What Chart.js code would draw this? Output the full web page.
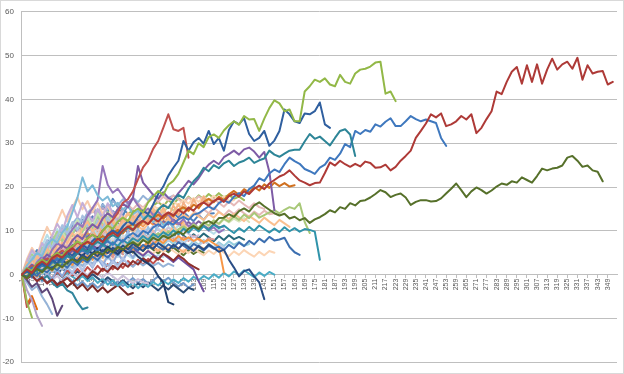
<!DOCTYPE html>
<html>
<head>
<meta charset="utf-8">
<script src="https://cdn.jsdelivr.net/npm/chart.js@4/dist/chart.umd.min.js"></script>
<style>
  body { margin: 0; background: #fff; }
</style>
</head>
<body>
<canvas id="walks" width="624" height="374"></canvas>
<script>
var STEP = 3;

var xTickLabels = [1, 7, 13, 19, 25, 31, 37, 43, 49, 55, 61, 67, 73, 79, 85, 91, 97, 103, 109, 115,
  121, 127, 133, 139, 145, 151, 157, 163, 169, 175, 181, 187, 193, 199, 205, 211, 217, 223, 229, 235,
  241, 247, 253, 259, 265, 271, 277, 283, 289, 295, 301, 307, 313, 319, 325, 331, 337, 343, 349];
var yTickLabels = [-20, -10, 0, 10, 20, 30, 40, 50, 60];

// long runs
var redLong = [0, 1.2, 0.4, 2.1, 3.0, 2.2, 3.8, 4.5, 3.9, 5.2,
  6.0, 5.1, 6.8, 7.5, 6.9, 8.2, 7.4, 8.9, 9.6, 8.8,
  10.1, 11.0, 10.2, 11.6, 12.3, 11.5, 12.9, 12.1, 13.4, 14.2,
  13.5, 14.8, 14.0, 15.3, 14.6, 15.9, 16.5, 15.7, 16.8, 17.4,
  16.6, 17.9, 18.5, 17.8, 19.0, 18.4, 19.6, 20.3, 19.5, 20.8,
  21.6, 22.4, 22.9, 23.8, 22.6, 21.5, 21.0, 20.4, 20.9, 21.0,
  23.2, 25.6, 24.9, 26.0, 25.2, 24.6, 25.3, 24.7, 25.8, 25.5,
  24.4, 24.5, 25.1, 23.8, 24.6, 26.0, 27.1, 28.3, 31.2, 32.8,
  34.5, 36.6, 35.9, 36.8, 33.9, 34.3, 35.0, 36.2, 35.4, 36.6,
  32.3, 33.5, 35.5, 37.3, 41.8, 41.2, 44.0, 46.3, 47.4, 43.6,
  47.8, 44.0, 48.0, 43.6, 46.8, 49.3, 46.8, 48.0, 48.6, 47.0,
  49.5, 44.5, 47.8, 45.9, 46.3, 46.5, 43.4, 44.0];
var oliveLong = [0, -0.8, 0.5, 1.3, 0.6, 1.8, 1.1, 2.4, 1.7, 2.9,
  3.5, 2.8, 4.0, 3.3, 4.6, 5.2, 4.5, 5.8, 5.1, 6.3,
  5.7, 6.8, 7.4, 6.6, 7.9, 7.2, 8.4, 7.8, 8.9, 8.3,
  9.0, 9.8, 9.2, 10.5, 11.1, 10.4, 11.7, 12.2, 11.6, 12.9,
  13.0, 13.8, 13.2, 14.5, 15.1, 14.4, 15.8, 16.5, 15.6, 14.8,
  14.0, 13.5, 13.9, 12.8, 13.2, 12.4, 12.9, 11.8, 12.6, 13.1,
  13.8, 14.7, 14.2, 15.4, 15.0, 16.3, 15.8, 16.8, 17.0, 17.6,
  18.4, 19.3, 18.8, 17.7, 18.2, 18.5, 17.6, 15.9, 16.6, 17.0,
  17.0, 16.7, 16.8, 17.4, 18.5, 19.6, 20.8, 19.3, 17.7, 19.0,
  19.9, 19.3, 18.5, 19.2, 20.1, 20.8, 20.5, 21.3, 21.0, 22.2,
  21.6, 21.0, 22.5, 24.2, 23.8, 24.2, 24.4, 24.9, 26.7, 27.1,
  26.0, 24.6, 24.9, 23.8, 23.5, 21.3];
var greenLong = [0, 1.5, 0.8, 2.6, 3.4, 2.7, 4.1, 5.0, 4.2, 5.8,
  6.5, 7.6, 6.9, 8.3, 9.1, 8.2, 10.0, 11.2, 10.4, 12.1,
  13.0, 12.2, 14.3, 15.1, 14.2, 16.5, 17.8, 19.1, 18.2, 20.5,
  21.4, 23.0, 25.6, 28.3, 27.5, 30.0, 29.1, 31.4, 32.0, 31.2,
  32.9, 34.1, 35.0, 34.2, 36.2, 35.4, 35.5, 32.8, 35.6, 38.0,
  39.8, 39.1, 37.3, 37.7, 35.0, 35.0, 41.8, 43.0, 44.5, 44.0,
  44.8, 43.4, 43.0, 45.6, 44.0, 43.6, 45.9, 46.8, 47.0, 47.5,
  48.4, 48.6, 41.3, 41.8, 39.6];
var blueLong = [0, 0.9, -0.4, 1.6, 2.5, 1.7, 3.3, 2.6, 4.2, 5.1,
  4.3, 5.9, 6.8, 6.0, 7.7, 8.5, 7.6, 9.2, 10.1, 9.3,
  11.0, 12.2, 11.4, 13.1, 14.6, 13.8, 16.0, 18.4, 20.1, 22.6,
  24.4, 26.0, 30.5, 28.3, 30.2, 31.2, 29.9, 32.8, 29.8, 31.2,
  28.3, 33.0, 35.0, 34.3, 35.7, 32.1, 30.5, 31.2, 32.8, 29.4,
  30.6, 32.8, 37.7, 36.6, 35.0, 34.6, 36.8, 36.6, 37.3, 39.3,
  34.3, 33.5];
var tealLong = [0, -0.6, 0.7, 1.5, 0.8, 2.2, 3.0, 2.3, 3.6, 4.4,
  3.7, 5.0, 5.9, 5.2, 6.6, 7.5, 6.8, 8.3, 9.0, 8.4,
  9.9, 10.7, 10.1, 11.5, 12.4, 13.6, 12.9, 14.8, 15.9, 15.2,
  17.0, 18.2, 17.5, 19.6, 21.3, 22.5, 24.4, 23.6, 25.0, 24.3,
  25.4, 26.0, 24.8, 25.6, 26.0, 26.7, 25.5, 26.1, 26.5, 28.3,
  27.4, 26.9, 27.6, 28.3, 28.5, 28.5, 30.4, 32.1, 31.0, 31.5,
  30.5, 29.5, 31.2, 32.8, 33.2, 32.0, 27.1];
var blueMid = [0, 0.7, 1.6, 0.9, 2.3, 1.5, 2.8, 3.6, 2.9, 4.3,
  3.6, 4.9, 5.5, 4.8, 6.2, 5.4, 6.9, 7.6, 6.8, 8.1,
  7.5, 8.8, 9.5, 8.7, 10.0, 9.4, 10.8, 11.5, 10.7, 12.0,
  11.4, 12.6, 13.2, 12.5, 13.7, 14.0, 14.8, 15.6, 14.9, 16.3,
  17.0, 16.4, 17.8, 18.6, 17.9, 19.5, 20.3, 22.0, 21.4, 23.1,
  24.0, 23.4, 25.2, 26.7, 25.9, 25.3, 24.1, 23.6, 23.0, 24.4,
  25.1, 26.7, 26.2, 27.6, 29.8, 29.1, 32.8, 32.1, 33.0, 32.6,
  34.3, 33.8, 34.9, 35.7, 33.9, 33.9, 35.0, 36.2, 35.5, 35.0,
  35.4, 35.0, 34.6, 31.2, 29.4];

// middle runs
var purpleA = [0, 1.1, 2.3, 1.5, 3.2, 4.6, 3.8, 5.5, 6.7, 5.9,
  7.8, 9.0, 8.1, 10.2, 11.5, 10.6, 12.8, 14.0, 13.1, 14.9,
  16.2, 15.3, 17.5, 24.8, 21.0, 19.6, 18.2, 17.4, 18.8, 17.5,
  17.0, 18.6, 19.9, 21.4, 20.6, 22.0, 23.8, 25.1, 26.0, 25.2,
  26.8, 27.5, 28.3, 27.4, 28.6, 29.0, 28.1, 26.7, 28.0, 23.5, 14.7];
var purpleB = [0, 1.4, 0.6, 2.8, 4.1, 3.3, 5.7, 7.2, 6.4, 8.6,
  10.3, 11.8, 10.9, 13.4, 15.2, 17.0, 24.8, 20.5, 18.7, 19.6,
  17.9, 16.3, 17.5, 15.8, 14.2, 15.1, 13.6, 14.4, 12.9, 13.8,
  12.2, 11.5, 12.7, 11.0, 11.9, 10.4, 11.2, 10.0, 10.8, 9.6, 10.3];
var skyBlue = [0, 2.1, 3.4, 5.0, 4.2, 6.8, 8.1, 7.3, 9.6, 11.0,
  14.2, 17.5, 22.2, 19.0, 20.4, 18.1, 16.9, 17.8, 15.6, 16.4,
  14.9, 15.7, 13.8, 14.6, 12.9, 13.5, 12.0, 12.8, 11.3, 12.1, 10.7];
var redPeak = [0, 0.8, 2.0, 1.2, 2.9, 3.7, 3.0, 4.6, 5.5, 4.7,
  6.2, 7.4, 6.6, 8.3, 9.1, 8.4, 10.0, 11.3, 12.5, 14.1,
  16.4, 17.2, 19.0, 21.8, 24.5, 26.0, 28.7, 30.5, 33.5, 36.6,
  33.2, 32.8, 33.5, 26.7];
var navyA = [0, -0.5, 0.6, 1.4, 0.7, 2.0, 1.3, 2.6, 3.2, 2.5,
  3.8, 3.1, 4.5, 3.7, 5.0, 4.2, 5.6, 4.9, 6.1, 5.3,
  6.6, 5.8, 7.0, 6.2, 5.4, 6.7, 5.9, 7.2, 6.4, 5.5,
  6.8, 5.9, 7.1, 6.3, 5.4, 6.6, 5.7, 6.9, 6.1, 5.2,
  5.7, 3.4, 1.6, -0.4, 0.8, 1.2, -0.4, -1.8, -5.6];
var navyB = [0, 0.9, 0.2, 1.7, 2.6, 1.8, 3.1, 2.4, 3.8, 4.5,
  3.7, 5.0, 4.2, 5.6, 4.8, 6.1, 5.2, 6.4, 5.5, 4.7,
  5.8, 4.9, 5.3, 4.1, 3.2, 2.5, 1.6, -0.4, -1.8, -6.3, -6.8];
var blueLow = [0, -0.7, 0.4, -0.3, 1.1, 0.5, 1.8, 1.0, 2.4, 1.6,
  3.0, 2.2, 3.5, 2.8, 4.1, 3.3, 4.7, 3.9, 5.2, 4.5,
  5.8, 5.0, 6.3, 5.5, 6.8, 6.0, 7.2, 6.4, 5.7, 6.9,
  6.2, 7.4, 6.6, 5.8, 7.0, 6.3, 5.5, 6.6, 5.9, 6.4,
  5.6, 6.8, 6.0, 7.3, 6.5, 7.7, 6.9, 8.2, 7.4, 8.6,
  7.8, 8.0, 8.4, 6.3, 5.1, 4.5];
var tealLow = [0, 0.6, 1.5, 0.8, 2.2, 1.4, 2.9, 3.7, 2.8, 4.2,
  3.5, 4.9, 5.6, 4.7, 6.1, 5.3, 6.8, 6.0, 7.4, 6.5,
  7.9, 7.1, 8.3, 7.6, 8.8, 7.9, 9.3, 8.5, 9.7, 8.9,
  10.1, 9.2, 10.5, 9.6, 10.8, 9.9, 11.1, 10.2, 11.4, 10.6,
  11.2, 10.3, 9.5, 10.6, 9.8, 10.9, 10.0, 11.2, 10.4, 9.6,
  10.5, 9.7, 10.8, 9.9, 10.6, 9.8, 10.4, 10.2, 9.8, 3.4];
var lightGreen = [0, 0.5, -0.3, 1.0, 0.4, 1.6, 2.3, 1.5, 2.9, 2.2,
  3.4, 2.7, 4.0, 3.2, 4.6, 5.3, 4.5, 5.9, 5.1, 6.4,
  5.6, 6.9, 7.6, 6.8, 8.1, 7.3, 8.7, 9.4, 8.6, 9.9,
  9.1, 10.4, 11.0, 10.2, 11.5, 10.7, 12.0, 11.2, 12.4, 11.6,
  12.8, 12.1, 13.3, 12.5, 13.7, 12.9, 14.1, 13.0, 13.6, 14.2,
  14.7, 14.0, 14.8, 15.4, 15.0, 16.3, 12.0, 9.5];
var orangeA = [0, 1.3, 0.5, 2.0, 2.8, 2.1, 3.5, 4.3, 3.6, 5.0,
  5.9, 5.1, 6.6, 7.4, 6.7, 8.0, 8.8, 8.1, 9.5, 10.2,
  9.4, 10.8, 11.6, 10.9, 12.2, 11.5, 12.9, 13.7, 12.8, 14.1,
  13.3, 14.7, 15.4, 14.6, 16.0, 15.2, 16.6, 17.3, 16.5, 17.8,
  17.0, 18.3, 19.1, 18.2, 19.5, 18.7, 20.0, 19.2, 20.6, 19.8,
  21.0, 20.2, 20.9, 20.1, 20.4];
var orangeB = [0, -0.8, 0.3, -0.5, 0.9, 1.7, 0.9, 2.3, 1.6, 3.0,
  2.2, 3.6, 2.9, 4.3, 3.5, 4.9, 4.1, 5.5, 4.7, 6.0,
  5.2, 6.5, 5.8, 7.1, 6.3, 7.6, 6.8, 8.0, 7.2, 8.4,
  7.6, 8.8, 7.9, 8.5, 7.7, 8.2, 7.4, 7.9, 7.1, 6.4, 0.5];
var darkRedShort = [0, -0.9, -0.2, -1.5, -0.7, -2.0, -1.1, -2.4, -1.6, -0.8,
  -1.9, -0.9, 0.3, -0.6, 0.8, 0.0, 1.4, 0.6, 2.0, 1.2,
  2.6, 1.8, 3.1, 2.3, 3.7, 2.9, 4.2, 3.4, 4.8, 4.1,
  3.2, 4.4, 3.6, 2.5, 1.8, 1.2];
var purpleShort = [0, 0.9, 2.0, 1.2, 2.6, 3.5, 2.7, 4.1, 5.0, 4.2,
  5.6, 4.8, 6.2, 5.4, 6.7, 5.9, 7.1, 6.2, 5.4, 6.6,
  5.8, 4.9, 6.0, 5.1, 4.3, 5.4, 4.5, 3.6, 4.7, 3.8,
  2.9, 3.9, 3.0, 2.1, 1.2, -1.5, -3.8];

// short drops below zero
var negGreen = [0, -6.2, -9.8];
var negLavender = [0, -3.5, -5.8, -9.4, -11.7];
var negRed = [0, -7.4, -5.5];
var negOrange = [0, -6.8, -4.9, -7.9];
var negIndigo = [0, -1.2, -2.8, -1.9, -4.1, -3.2, -5.5, -9.4, -7.1];
var negTeal = [0, 0.8, -0.5, 0.6, -1.2, -0.3, -1.8, -2.9, -2.1, -3.6, -4.2, -6.3, -7.9, -7.5];
var negSky = [0, -1.8, -3.5, -2.6, -5.0, -6.8, -9.0];

// pale bundle near the start
var pale1 = [0, 1.2, 2.5, 1.8, 3.1, 4.0, 3.2, 4.6, 5.4, 4.7, 6.0, 5.3, 6.7, 7.5, 6.6, 8.0, 7.2, 8.5, 9.3, 8.4,
  9.8, 10.5, 9.7, 11.0, 10.2, 11.6, 12.3, 11.4, 12.8, 12.0, 13.2, 12.4, 13.7, 12.9, 14.1, 13.3, 12.5, 13.8, 13.0, 14.3,
  13.5, 12.7, 13.9, 13.1, 12.2, 13.4, 12.6, 11.8, 13.0, 12.1, 11.3, 12.5, 11.7, 10.9];
var pale2 = [0, 0.8, 1.9, 1.1, 2.4, 3.3, 2.5, 3.8, 4.6, 3.9, 5.1, 4.4, 5.7, 6.5, 5.6, 6.9, 6.1, 7.4, 6.6, 7.8,
  7.0, 8.2, 7.3, 8.6, 7.8, 9.0, 8.1, 7.3, 8.5, 7.6, 8.8, 8.0, 7.1, 8.2, 7.4, 6.5, 7.7, 6.9, 6.1, 7.0, 6.2];
var pale3 = [0, 1.5, 0.7, 2.2, 3.5, 2.8, 4.3, 5.6, 4.8, 6.2, 7.4, 6.5, 7.9, 7.0, 8.4, 9.6, 8.7, 10.0, 9.1, 10.5,
  9.6, 11.0, 10.1, 9.2, 10.6, 9.8, 11.1, 10.2, 9.4, 10.7, 9.9, 8.9, 10.2, 9.3, 8.5, 9.0];
var pale4 = [0, 0.4, 1.3, 0.6, 1.9, 1.2, 2.6, 2.0, 3.3, 2.7, 4.0, 3.4, 4.8, 4.1, 5.5, 4.8, 6.2, 5.5, 6.9, 6.1,
  7.4, 6.7, 8.0, 7.3, 8.6, 7.9, 9.1, 8.4, 9.7, 9.0, 10.2, 9.5, 10.8, 10.0, 11.3, 10.5, 11.7, 11.0, 12.2, 11.4,
  12.6, 11.9, 12.8, 12.1, 12.9, 12.0];
var pale5 = [0, 1.0, 2.3, 3.1, 2.4, 3.9, 5.0, 4.2, 5.7, 6.8, 6.0, 7.5, 8.6, 7.8, 9.2, 10.3, 9.4, 10.9, 11.8, 10.9,
  12.3, 11.4, 12.8, 13.9, 12.9, 14.3, 13.4, 12.5, 13.8, 12.9, 14.2, 15.0, 14.1, 15.4, 14.5, 13.6, 14.9, 14.0, 15.3, 14.4,
  13.5, 14.7, 13.8, 14.9, 14.0, 13.2, 14.4, 13.6, 14.6, 13.8, 14.0];
var pale6 = [0, -0.6, 0.5, -0.2, 1.0, 0.3, 1.6, 0.8, 2.1, 1.3, 2.7, 1.9, 3.2, 2.4, 3.8, 3.0, 4.3, 3.5, 4.9, 4.0,
  5.2, 4.4, 3.6, 4.8, 3.9, 4.6, 3.7, 4.5, 4.0];
var pale7 = [0, 1.8, 3.2, 2.4, 4.1, 5.5, 4.6, 6.3, 7.6, 6.8, 8.4, 9.7, 8.8, 10.3, 11.5, 10.6, 12.1, 13.0, 12.1, 13.6,
  12.7, 14.0, 13.1, 14.5, 15.3, 14.4, 15.8, 14.9, 16.2, 15.3, 16.7, 15.8, 17.1, 16.2, 17.5, 16.6, 17.8, 16.9, 18.0, 17.1,
  17.9, 16.8, 17.0];
var pale8 = [0, 0.6, -0.4, 0.9, 0.1, 1.4, 0.6, 1.9, 1.1, 2.4, 1.6, 2.9, 2.0, 3.3, 2.5, 3.7, 2.8, 2.0, 3.2, 2.3,
  3.5, 2.6, 1.8, 3.0, 2.1, 2.9, 2.0, 2.7, 1.8, 2.5, 2.0];
var pale9 = [0, 1.2, 0.4, 1.9, 3.0, 2.2, 3.6, 2.8, 4.2, 5.1, 4.3, 5.7, 4.9, 6.3, 5.5, 6.8, 7.6, 6.7, 8.1, 7.2,
  8.5, 7.6, 8.9, 8.0, 9.3, 8.4, 7.5, 8.8, 7.9, 9.1, 8.2, 7.3, 8.6, 7.7, 8.9, 8.0, 7.2, 8.3, 8.0];
var pale10 = [0, 2.0, 3.5, 2.7, 4.5, 6.1, 5.2, 7.0, 8.4, 7.5, 9.2, 8.3, 10.0, 11.3, 10.4, 12.0, 11.1, 12.6, 11.7, 13.2,
  12.3, 13.8, 12.9, 14.3, 13.4, 14.8, 13.9, 15.2, 14.2, 15.5, 14.6, 15.8, 14.9, 15.1];
var pale11 = [0, 2.4, 4.0, 3.1, 5.2, 7.0, 6.0, 8.1, 9.6, 8.6, 10.5, 12.0, 11.0, 13.2, 14.6, 13.5, 15.2, 14.1, 13.0, 14.4,
  13.3, 12.2, 13.5, 12.4, 11.5, 12.6, 12.0];
var pale12 = [0, 0.9, 0.1, 1.5, 0.7, 2.2, 1.4, 2.9, 3.7, 2.9, 4.3, 3.5, 4.9, 4.1, 5.5, 4.7, 6.0, 5.2, 6.6, 5.8,
  7.1, 6.3, 7.6, 6.8, 8.0, 7.2, 8.4, 7.5, 6.7, 7.9, 7.0, 8.2, 7.3, 6.5, 7.7, 6.8, 7.9, 7.0, 6.2, 7.4,
  6.5, 7.6, 6.8, 7.5, 6.6, 7.0];
var pale13 = [0, -0.5, 0.7, 1.5, 0.6, 1.9, 1.1, 2.5, 1.7, 3.0, 2.2, 3.6, 2.8, 4.1, 3.3, 4.7, 3.8, 5.2, 4.4, 5.7,
  4.8, 6.2, 5.3, 6.7, 5.8, 7.1, 6.2, 5.4, 6.6, 5.7, 6.9, 6.0, 5.1, 6.3, 5.4, 6.5, 6.0];
var pale14 = [0, -1.0, -0.2, -1.6, -0.7, -2.1, -1.2, -0.3, -1.5, -0.6, 0.4, -0.5, 0.8, -0.2, 1.1, 0.2, -0.7, 0.5, -0.4, -1.3,
  -0.2, -1.1, -2.0, -1.0, -1.8, -2.0];
var pale16 = [0, 1.6, 2.9, 4.5, 3.6, 5.3, 6.7, 5.8, 7.5, 8.9, 8.0, 9.6, 10.8, 9.9, 11.4, 12.5, 11.6, 13.0, 14.2, 13.3,
  14.7, 15.8, 14.9, 16.2, 15.3, 16.6, 17.5, 16.5, 17.8, 16.9, 18.1, 17.2, 16.3, 17.6, 16.7, 17.9, 17.0, 16.1, 17.3, 16.4,
  15.5, 16.7, 15.8, 16.9, 16.0, 15.2, 16.3, 15.4, 15.0];
var pale17 = [0, 1.3, 0.5, 2.0, 2.9, 2.1, 3.6, 4.5, 3.7, 5.1, 6.0, 5.2, 6.6, 7.4, 6.6, 7.9, 7.1, 8.3, 8.0];
var pale18 = [0, 0.5, -0.4, 0.8, 0.2, 1.3, 0.6, 1.8, 1.1, 2.3, 1.5, 2.8, 2.0, 3.2, 2.4, 3.7, 2.9, 4.1, 3.3, 4.5,
  3.7, 4.9, 4.1, 5.3, 4.5, 5.6, 4.8, 5.9, 5.1, 6.2, 5.4, 4.6, 5.7, 4.9, 6.0, 5.2, 4.4, 5.5, 4.7, 5.8,
  5.0, 4.2, 5.3, 4.5, 5.6, 4.8, 4.1, 5.2, 4.4, 5.4, 5.0];
var pale19 = [0, 1.1, 2.2, 1.4, 2.8, 3.9, 3.1, 4.5, 5.5, 4.7, 6.1, 5.3, 6.7, 7.6, 6.8, 8.1, 7.3, 8.6, 7.8, 9.0,
  8.2, 9.5, 8.7, 9.9, 9.0, 10.2, 9.4, 10.6, 9.7, 10.9, 10.0, 11.2, 10.3, 9.5, 10.7, 9.8, 11.0, 10.1, 9.3, 10.4, 10.0];
var pale20 = [0, 2.5, 4.2, 3.3, 5.8, 7.5, 6.5, 8.9, 10.4, 9.4, 11.6, 13.0, 12.0, 14.1, 15.3, 14.2, 16.0, 15.0, 16.8, 15.8,
  17.2, 16.2, 17.6, 16.5, 18.0, 17.0, 18.3, 17.3, 18.6, 17.5, 18.0];
var pale21 = [0, 2.8, 1.5, 4.2, 3.0, 5.9, 4.1, 6.8, 8.9, 7.2, 9.5, 8.0, 10.6, 12.1, 9.8, 11.4, 13.2, 11.0, 12.7, 10.3,
  12.0, 14.1, 12.2, 13.6, 11.4, 13.0, 15.2, 13.3, 14.8, 12.5, 14.0, 16.1, 13.9, 15.0];
var pale22 = [0, 1.9, 4.1, 2.6, 5.3, 7.9, 6.1, 8.8, 11.3, 9.2, 12.0, 10.1, 13.5, 11.2, 9.6, 12.3, 10.4, 13.1, 11.0, 9.1,
  11.8, 10.2, 12.7, 10.5];
var pale23 = [0, 3.0, 5.6, 4.0, 7.2, 5.5, 8.9, 11.6, 9.7, 13.4, 15.9, 13.1, 16.4, 14.0, 12.2, 15.0, 13.1, 16.3, 14.2, 12.0, 14.8];
var pale24 = [0, 1.0, 3.4, 2.1, 4.8, 3.2, 6.0, 4.5, 7.3, 5.4, 8.1, 6.3, 9.2, 7.0, 10.1, 8.3, 11.4, 9.0, 12.2, 10.1,
  12.9, 10.8, 13.5, 11.6, 14.0, 12.1, 14.6, 12.8, 15.3, 13.0, 15.8, 13.6, 16.4, 14.5, 17.2, 15.1, 17.9, 16.0];
var pale25 = [0, -1.2, 1.0, -0.5, 2.1, 0.4, 3.0, 1.2, 3.8, 2.2, 4.6, 2.9, 5.4, 3.6, 6.3, 4.1, 6.8, 4.9, 7.5, 5.6,
  8.2, 6.1, 8.7, 6.8, 9.3, 7.4, 9.9, 8.0];
var pale26 = [0, 2.2, 0.8, 3.1, 1.5, 4.0, 2.4, 5.1, 3.0, 5.8, 3.9, 6.6, 4.6, 7.3, 5.2, 8.0, 5.9, 8.6, 6.5, 9.3,
  7.0, 9.8, 7.6, 10.4, 8.1, 10.9, 8.7, 11.5];
var pale27 = [0, 0.9, 2.6, 1.4, 3.5, 2.2, 4.4, 3.1, 5.2, 3.8, 6.0, 4.4, 6.7, 5.1, 7.3, 5.6, 7.9, 6.3, 8.4, 6.9, 9.0, 7.3];
var pale28 = [0, 1.7, 3.9, 2.2, 4.9, 6.8, 5.0, 7.6, 9.7, 7.9, 10.3, 12.4, 10.6, 13.1, 11.2, 14.0, 12.3, 10.5, 13.2, 11.4,
  9.8, 12.5, 10.9];
var pale29 = [0, -1.5, 0.6, -0.9, 1.8, 0.2, 2.9, 1.1, 3.7, 1.9, 0.5, 2.6, 1.0, 3.4, 1.8, 4.2, 2.5, 0.9, 3.1, 1.6, 3.9, 2.3];
var pale30 = [0, 3.5, 6.1, 4.2, 8.0, 10.9, 8.6, 12.0, 14.8, 12.1, 15.3, 17.6, 14.9, 16.8, 14.2, 16.5, 13.8, 15.9, 13.0, 15.1, 12.6];
var pale31 = [0, 1.3, -0.8, 0.9, -1.6, 0.4, -1.1, 1.2, -0.4, 1.8, 0.3, 2.5, 0.9, 3.1, 1.6, 3.7, 2.0, 4.3, 2.6, 4.9,
  3.1, 5.4, 3.8, 6.0];
var pale32 = [0, 2.0, 4.6, 3.1, 6.2, 4.4, 7.5, 9.8, 7.6, 10.7, 8.8, 11.9, 9.7, 12.8, 10.6, 13.6, 11.3, 14.3, 12.1, 15.0];
var pale33 = [0, -0.6, 1.4, 3.0, 1.6, 4.0, 2.5, 5.2, 3.7, 6.4, 4.8, 7.5, 5.6, 8.3, 6.4, 4.9, 7.1, 5.5, 3.9, 6.2, 4.6];
var pale34 = [0, 2.6, 5.1, 3.3, 6.5, 9.1, 7.0, 10.4, 8.2, 11.5, 9.3, 12.6, 10.1, 13.4, 11.0, 8.7, 11.9, 9.4, 12.3];
var pale35 = [0, 0.3, 1.9, 0.6, 2.8, 1.3, 3.6, 2.0, 4.5, 2.8, 5.2, 3.3, 5.9, 4.0, 6.5, 4.7, 7.2, 5.3, 7.8, 6.0,
  8.4, 6.6, 9.0, 7.1, 9.6, 7.7, 10.1, 8.3, 10.7, 8.8, 11.2, 9.4, 11.8, 10.0];

// saturated bundle near the start
var sat1 = [0, 2.2, 3.9, 5.6, 4.6, 7.1, 8.8, 7.7, 10.0, 9.0, 11.3, 10.2, 12.4, 11.3, 13.2, 12.1, 13.9, 12.8, 14.5, 13.4,
  15.0, 13.9, 12.8, 14.2, 13.1, 14.6, 13.5, 12.4, 13.8, 12.7, 14.1, 13.0, 14.3, 13.2, 12.2, 13.6, 12.5, 13.9, 14.0];
var sat2 = [0, 0.8, -0.6, 0.5, -1.1, 0.2, -0.9, 0.6, -0.5, 1.0, -0.2, 1.3, 0.1, 1.7, 0.5, 2.0, 0.8, 2.4, 1.2, 2.7,
  1.5, 3.1, 1.9, 3.4, 2.2, 3.6, 2.5, 3.8, 3.0];
var sat3 = [0, 1.4, 2.7, 1.9, 3.6, 5.0, 4.1, 5.8, 7.1, 6.2, 7.9, 9.2, 8.3, 9.9, 11.0, 10.1, 11.7, 12.6, 11.7, 13.2,
  12.3, 13.8, 14.7, 13.8, 15.2, 14.3, 15.7, 16.6, 15.6, 17.0, 16.1, 17.4, 16.5, 17.8, 16.8, 18.1, 17.2, 18.4, 17.5, 18.6,
  17.6, 18.2, 17.3, 17.8, 17.0];
var sat4 = [0, 1.0, 2.4, 1.5, 3.1, 4.3, 3.4, 5.0, 6.2, 5.3, 6.9, 8.0, 7.1, 8.6, 9.7, 8.8, 10.2, 11.1, 10.2, 11.6,
  10.7, 12.0, 11.1, 12.4, 11.5, 12.8, 11.9, 11.0, 12.3, 11.4, 12.6, 11.7, 10.8, 12.0, 11.1, 12.2, 11.3, 10.5, 11.6, 10.8, 11.0];
var sat5 = [0, -0.7, 0.4, -0.4, 0.8, -0.1, 1.1, 0.3, -0.6, 0.5, -0.4, -1.3, -0.3, -1.5, -0.6, -1.9, -0.9, -2.3, -1.3, -2.6,
  -1.6, -2.9, -1.8, -3.1, -2.0, -2.8, -1.7, -2.5, -1.4, -2.2, -1.1, -1.9, -0.8, -1.6, -0.5, -1.3, -0.3, -1.0, 0.1, -0.7,
  0.4, -0.4, 0.7, -0.1, 1.0, 0.2, -0.6, 0.5, -0.3, 0.6, 0.0];
var sat6 = [0, 1.7, 0.9, 2.6, 3.8, 3.0, 4.7, 5.9, 5.0, 6.6, 7.8, 6.9, 8.4, 9.5, 8.6, 10.1, 9.2, 10.6, 9.7, 11.1,
  10.2, 11.5, 10.6, 11.9, 11.0, 12.3, 11.4, 12.6, 11.7, 12.9, 12.0, 11.3, 12.0];
var sat7 = [0, -0.9, 0.2, -0.6, 0.7, -0.3, 1.0, 0.1, 1.4, 0.5, -0.4, 0.7, -0.2, -1.1, 0.1, -0.8, -1.7, -0.6, -1.5, -2.4,
  -1.3, -2.2, -3.1, -2.0, -2.9, -1.8, -2.7, -3.6, -2.5, -3.4, -2.3, -3.2, -4.1, -3.0, -3.5];
var sat8 = [0, 0.6, -0.5, -1.4, -0.6, -1.9, -1.0, -2.3, -1.4, -2.8, -1.8, -3.2, -2.2, -3.6, -2.5, -3.9, -2.9, -4.1, -3.2, -2.4,
  -3.5, -4.6, -4.2];
var sat9 = [0, 0.9, 1.9, 1.1, 2.5, 3.6, 2.7, 4.0, 5.1, 4.2, 5.6, 4.7, 6.0, 7.0, 6.1, 7.4, 6.5, 7.8, 6.9, 8.2,
  7.3, 8.5, 7.6, 8.8, 7.9, 9.1, 8.2, 9.4, 8.5, 9.7, 8.7, 9.9, 8.9, 8.0, 9.2, 8.3, 9.4, 8.5, 7.6, 8.8,
  7.9, 9.0, 8.1, 8.6, 8.0];
var sat10 = [0, -0.5, 0.8, 1.7, 0.9, 2.3, 1.5, 2.9, 2.0, 3.4, 2.6, 3.9, 3.1, 4.4, 3.5, 4.8, 3.9, 5.2, 4.3, 5.6,
  4.7, 6.0, 5.0, 6.3, 5.4, 6.6, 5.7, 4.8, 6.0, 5.1, 6.2, 5.3, 4.4, 5.6, 4.7, 5.5, 5.0];
var sat11 = [0, 0.5, -0.4, -1.3, -0.5, -1.8, -0.9, -2.2, -1.2, -0.4, -1.5, -2.5, -1.6, -2.8, -1.9, -3.0, -2.1, -1.2, -2.4, -1.5,
  -2.6, -1.7, -0.8, -1.9, -1.0, -2.1, -1.3, -0.4, -1.6, -0.7, -1.8, -2.7, -1.9, -3.0, -2.2];
var sat13 = [0, 0.7, 1.8, 1.0, 2.4, 3.3, 2.5, 3.9, 3.1, 4.4, 5.3, 4.5, 5.8, 5.0, 6.3, 5.5, 6.7, 5.9, 7.1, 6.2,
  7.4, 6.5, 5.7, 6.9, 6.0, 7.2, 6.3, 5.5, 6.6, 5.8];
var sat14 = [0, 1.8, 3.6, 2.0, 4.7, 6.9, 5.1, 8.2, 10.5, 8.4, 11.3, 9.6, 12.5, 10.4, 13.3, 11.1, 9.3, 12.0, 10.2, 13.1,
  11.2, 9.4, 12.3];
var sat15 = [0, 1.1, 3.3, 1.9, 4.5, 6.4, 4.8, 7.6, 9.9, 11.4, 9.1, 12.2, 10.3, 13.5, 15.2, 13.0, 16.1, 14.0, 17.3, 15.4,
  13.3, 16.2, 14.1];
var sat16 = [0, 2.4, 1.0, 3.7, 2.1, 5.0, 3.2, 6.3, 4.4, 7.5, 5.6, 8.6, 6.5, 9.5, 7.4, 10.3, 8.2, 11.0, 9.0, 11.8, 9.7];

// first entry ends up drawn on top
var series = [
  [redLong, '#AE3A37'], [oliveLong, '#56702A'], [greenLong, '#92B847'], [blueLong, '#2F5F9F'],
  [tealLong, '#2D8597'], [blueMid, '#3F78BE'], [redPeak, '#C0504D'], [purpleA, '#7E5CA6'],
  [navyA, '#2A4E86'], [navyB, '#213F6B'], [blueLow, '#3C6FB0'], [tealLow, '#2F93AA'],
  [lightGreen, '#A8C878'], [orangeA, '#D0701F'], [orangeB, '#F79646'], [darkRedShort, '#8E2F2C'],
  [purpleShort, '#7050A0'], [negGreen, '#9BBB59'], [negLavender, '#B3A2C7'], [negRed, '#C0504D'],
  [negOrange, '#E46C0A'], [negIndigo, '#5F497A'], [negTeal, '#31859C'], [negSky, '#95B3D7'],
  [skyBlue, '#7DBAD8'], [purpleB, '#9475BA'],
  [pale21, '#F9B98A'], [pale22, '#A7C0E0'], [pale23, '#C4AED8'], [pale24, '#F4B183'], [pale25, '#E6B9B8'],
  [pale26, '#9DC3E6'], [pale27, '#D6DCE4'], [pale28, '#C5E0B3'], [pale29, '#B4C6E7'], [pale30, '#F8CBAD'],
  [pale31, '#8EA9DB'], [pale32, '#A9D18E'], [pale33, '#D99694'], [pale34, '#B7DEE8'], [pale35, '#FAC090'],
  [pale1, '#FAC090'], [pale2, '#B9CDE5'], [pale3, '#CCC1DA'], [pale4, '#D7E4BD'], [pale5, '#E6B9B8'],
  [pale6, '#B7DEE8'], [pale7, '#FCD5B5'], [pale8, '#95B3D7'], [pale9, '#D99694'], [pale10, '#C3D69B'],
  [pale11, '#B3A2C7'], [pale12, '#93CDDD'], [pale13, '#F9B07A'], [pale14, '#CCC1DA'], [pale16, '#E6B9B8'],
  [pale17, '#D7E4BD'], [pale18, '#FCD5B5'], [pale19, '#B7DEE8'], [pale20, '#95B3D7'],
  [sat1, '#4F81BD'], [sat2, '#C0504D'], [sat3, '#9BBB59'], [sat4, '#8064A2'], [sat5, '#4BACC6'],
  [sat6, '#F79646'], [sat7, '#2C4D75'], [sat8, '#772C2A'], [sat9, '#276A7C'], [sat10, '#5F7530'],
  [sat11, '#729ACA'], [sat13, '#B65708'], [sat14, '#8064A2'], [sat15, '#4F81BD'], [sat16, '#4BACC6']
];

var datasets = series.map(function(s) {
  return {
    data: s[0].map(function(v, i) { return { x: 1 + STEP * i, y: v }; }),
    borderColor: s[1],
    borderWidth: 2,
    pointRadius: 0,
    tension: 0,
    borderJoinStyle: 'round',
    borderCapStyle: 'round'
  };
});

var frame = {
  id: 'frame',
  beforeDraw: function(chart) {
    var c = chart.ctx;
    c.save();
    c.fillStyle = '#ffffff';
    c.fillRect(0, 0, chart.width, chart.height);
    c.strokeStyle = '#D9D9D9';
    c.lineWidth = 1;
    c.strokeRect(0.5, 0.5, chart.width - 1, chart.height - 1);
    c.restore();
  }
};

new Chart(document.getElementById('walks'), {
  type: 'line',
  data: { datasets: datasets },
  plugins: [frame],
  options: {
    responsive: false,
    animation: false,
    devicePixelRatio: 1,
    layout: { padding: { top: 10, right: 7, bottom: 10, left: 0 } },
    plugins: { legend: { display: false }, tooltip: { enabled: false } },
    scales: {
      x: {
        type: 'linear',
        position: { y: 0 },
        min: 0.5,
        max: 354.5,
        afterBuildTicks: function(scale) {
          scale.ticks = xTickLabels.map(function(v) { return { value: v }; });
        },
        ticks: {
          autoSkip: false,
          minRotation: 90,
          maxRotation: 90,
          padding: 1,
          color: '#595959',
          font: { family: 'Liberation Sans', size: 7 },
          callback: function(v) { return String(v); }
        },
        grid: { drawOnChartArea: false, drawTicks: true, tickLength: 3, color: '#BFBFBF' },
        border: { color: '#BFBFBF' }
      },
      y: {
        min: -20,
        max: 60,
        afterBuildTicks: function(scale) {
          scale.ticks = yTickLabels.map(function(v) { return { value: v }; });
        },
        afterFit: function(scale) { scale.width = 21; },
        ticks: {
          padding: 7,
          color: '#595959',
          font: { family: 'Liberation Sans', size: 8 }
        },
        grid: { color: '#BFBFBF', lineWidth: 1, drawTicks: false },
        border: { color: '#BFBFBF' }
      }
    }
  }
});
</script>
</body>
</html>
